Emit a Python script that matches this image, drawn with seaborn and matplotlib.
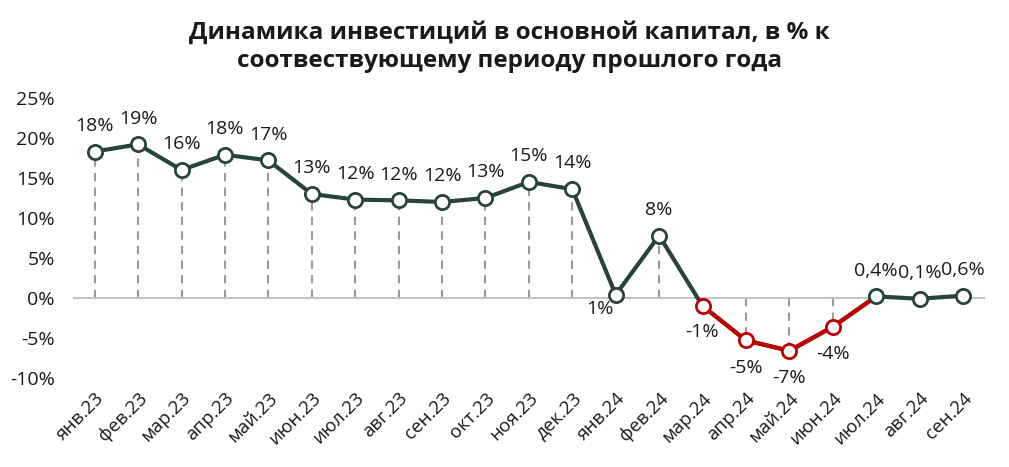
import matplotlib
matplotlib.use("Agg")
import matplotlib.pyplot as plt
import seaborn as sns
import pandas as pd
import numpy as np

months = ["янв.23", "фев.23", "мар.23", "апр.23", "май.23", "июн.23", "июл.23",
          "авг.23", "сен.23", "окт.23", "ноя.23", "дек.23", "янв.24", "фев.24",
          "мар.24", "апр.24", "май.24", "июн.24", "июл.24", "авг.24", "сен.24"]
values = [18.3, 19.2, 16.0, 17.9, 17.2, 13.0, 12.3, 12.2, 12.0, 12.5, 14.5, 13.6,
          0.4, 7.8, -1.0, -5.3, -6.6, -3.6, 0.2, -0.1, 0.3]
labels = ["18%", "19%", "16%", "18%", "17%", "13%", "12%", "12%", "12%", "13%",
          "15%", "14%", "1%", "8%", "-1%", "-5%", "-7%", "-4%", "0,4%", "0,1%", "0,6%"]
red_months = ["мар.24", "апр.24", "май.24", "июн.24"]
y_ticks = [-10, -5, 0, 5, 10, 15, 20, 25]

GREEN = "#274537"
RED = "#c00000"
GRAY = "#9a9a9a"

sns.set_theme(style="white")
plt.rcParams["font.family"] = ["Open Sans", "DejaVu Sans"]

df = pd.DataFrame({"month": months, "value": values, "label": labels})
df["pos"] = np.arange(len(df))
df["red"] = df["month"].isin(red_months)

fig = plt.figure(figsize=(10.09, 4.67), dpi=100)
ax = fig.add_axes([0.0723, 0.1906, 0.9037, 0.5996])

# dashed drop lines
for p, v in zip(df["pos"], df["value"]):
    if abs(v) > 2:
        ax.plot([p, p], [0, v], color=GRAY, lw=1.5, ls=(0, (4, 3)), zorder=1)

ax.axhline(0, color="#c4c4c4", lw=1.5, zorder=1)

sns.lineplot(data=df, x="pos", y="value", color=GREEN, lw=3.0, ax=ax, zorder=2)
# red segment from мар.24 to июл.24
ri = df.index[df["red"]]
seg = df.loc[ri.min():ri.max() + 1]
sns.lineplot(data=seg, x="pos", y="value", color=RED, lw=3.0, ax=ax, zorder=3)

for is_red, col in [(False, GREEN), (True, RED)]:
    sub = df[df["red"] == is_red]
    ax.scatter(sub["pos"], sub["value"], s=105, facecolor="white",
               edgecolor=col, linewidth=2, zorder=4)

# data labels
below = {"янв.24": (-11.5, -10), "мар.24": (0, -19), "апр.24": (0, -20),
         "май.24": (0, -19.5), "июн.24": (0, -19.5)}
for m, p, v, lab in zip(df["month"], df["pos"], df["value"], df["label"]):
    dx, dy = below.get(m, (0, 18.5))
    ax.annotate(lab, (p, v), xytext=(dx, dy), textcoords="offset points",
                ha="center", va="center", fontsize=14, color="#1a1a1a")

ax.set_xlim(-0.5, 20.5)
ax.set_ylim(-10, 25)
ax.set_yticks(y_ticks)
ax.set_yticklabels([f"{t}%" for t in y_ticks], fontsize=14, color="#1a1a1a")
ax.set_xticks(df["pos"])
ax.set_xticklabels(months, rotation=45, ha="right", rotation_mode="anchor",
                   fontsize=13.5, color="#1a1a1a")
ax.tick_params(axis="both", length=0)
ax.tick_params(axis="x", pad=8)
ax.tick_params(axis="y", pad=13)
ax.set_xlabel("")
ax.set_ylabel("")
for s in ax.spines.values():
    s.set_visible(False)

fig.suptitle("Динамика инвестиций в основной капитал, в % к\nсоотвествующему периоду прошлого года",
             x=0.505, y=0.955, fontsize=17.5, fontweight="bold", color="#1a1a1a",
             linespacing=1.2)

fig.savefig("out.png", dpi=100)
